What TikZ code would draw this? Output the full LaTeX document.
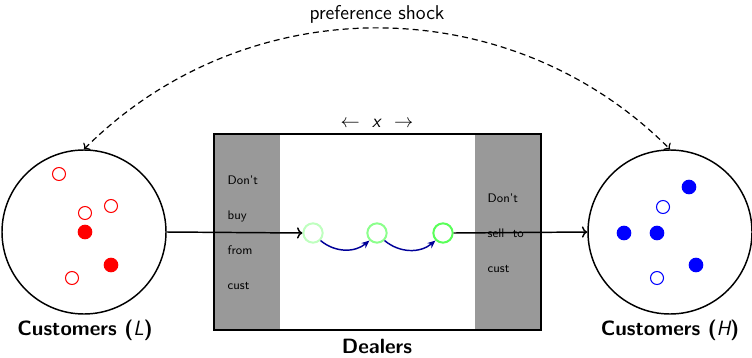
\documentclass[tikz,border=0pt]{standalone}
\usetikzlibrary{arrows.meta}
\begin{document}
\begin{tikzpicture}[x=0.75pt,y=-0.75pt,font=\sffamily,
  pool/.style={circle,draw,line width=1.1pt,minimum size=123pt,inner sep=0pt},
  opendot/.style={circle,draw=#1,line width=0.8pt,minimum size=9.75pt,inner sep=0pt},
  fulldot/.style={circle,fill=#1,minimum size=11pt,inner sep=0pt},
  dealer/.style={circle,draw=#1,line width=1.5pt,minimum size=14.5pt,inner sep=0pt},
  panel/.style={fill=black!40},
  paneltext/.style={anchor=west,align=left,font=\sffamily\fontsize{9.3}{26.25}\selectfont},
  biglabel/.style={font=\sffamily\bfseries\fontsize{15.5}{17}\selectfont},
  flow/.style={->,line width=1.1pt},
  trade/.style={-{Stealth[length=6pt,width=5pt]},line width=1.1pt,blue!60!black},
]
\useasboundingbox (0,0) rectangle (752,357);

% customer pools
\node[pool] (L) at (84,232) {};
\node[pool] (H) at (670,232) {};
\node[biglabel] (Llab) at (85,330) {Customers ({\mdseries\itshape L})};
\node[biglabel] (Hlab) at (670,330) {Customers ({\mdseries\itshape H})};

% low-type customers
\node[opendot=red] (l1) at (59,174) {};
\node[opendot=red] (l2) at (85,213) {};
\node[opendot=red] (l3) at (111,206) {};
\node[opendot=red] (l4) at (72,278) {};
\node[fulldot=red] (l5) at (85,232) {};
\node[fulldot=red] (l6) at (111,265) {};

% high-type customers
\node[fulldot=blue] (h1) at (689,187) {};
\node[fulldot=blue] (h2) at (624,233) {};
\node[fulldot=blue] (h3) at (657,233) {};
\node[fulldot=blue] (h4) at (696,265) {};
\node[opendot=blue] (h5) at (663,207) {};
\node[opendot=blue] (h6) at (657,278) {};

% dealer sector
\fill[panel] (214,134) rectangle (280,330);
\fill[panel] (475,134) rectangle (541,330);
\node[draw,line width=0.9pt,minimum width=245.25pt,minimum height=147pt,inner sep=0pt] (D) at (377.5,232) {};
\node[biglabel] (Dlab) at (377,346) {Dealers};
\node[font=\sffamily\fontsize{14}{16}\selectfont] (xlab) at (377,123) {$\leftarrow$\ \ \textit{x}\ \ $\rightarrow$};
\node[paneltext] (nobuy) at (223,233) {Don't\\buy\\from\\cust};
\node[paneltext] (nosell) at (483,233) {Don't\\sell\ \ to\\cust};

\node[dealer=green!25] (g1) at (313,233) {};
\node[dealer=green!45] (g2) at (377,233) {};
\node[dealer=green!65] (g3) at (443,233) {};

% flows
\draw[flow] (L.east) -- (g1.west);
\draw[flow] (g3.east) -- (H.west);
\draw[trade] (g1.south east) to[bend right=40] (g2.south west);
\draw[trade] (g2.south east) to[bend right=40] (g3.south west);

% preference shock
\draw[<->,line width=0.9pt,dash pattern=on 4.5pt off 3pt]
  (L.north) to[bend left=45]
  node[above,font=\sffamily\fontsize{15}{17}\selectfont,inner sep=3pt] (shock) {preference shock}
  (H.north);
\end{tikzpicture}
\end{document}
